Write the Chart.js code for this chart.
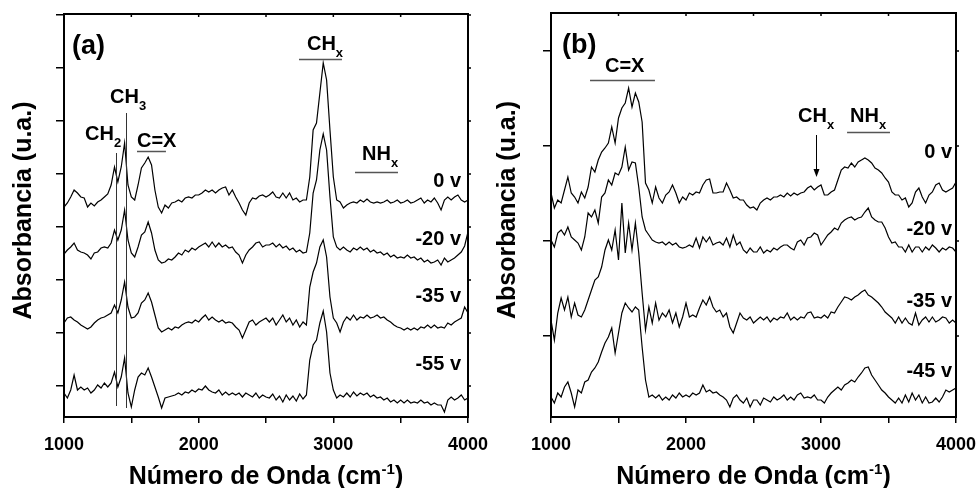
<!DOCTYPE html>
<html>
<head>
<meta charset="utf-8">
<title>Espectros FTIR</title>
<script src="https://cdn.jsdelivr.net/npm/chart.js@4/dist/chart.umd.min.js"></script>
<style>
  body { margin: 0; background: #fff; }
  .panel { position: absolute; top: 0; }
  #panelA { left: 0; }
  #panelB { left: 490px; }
</style>
</head>
<body>
<canvas id="panelA" class="panel" width="490" height="488"></canvas>
<canvas id="panelB" class="panel" width="487" height="488"></canvas>
<script>
/**
 * Espectros FTIR apilados, paneles (a) y (b).
 * Absorbancia en unidades arbitrarias, cada espectro desplazado verticalmente.
 */

var FAMILY = '"Liberation Sans", Arial, Helvetica, sans-serif';

// numero de onda (cm-1), paso de 25
var wavenumber = [
    1000, 1025, 1050, 1075, 1100, 1125, 1150, 1175, 1200, 1225,
    1250, 1275, 1300, 1325, 1350, 1375, 1400, 1425, 1450, 1475,
    1500, 1525, 1550, 1575, 1600, 1625, 1650, 1675, 1700, 1725,
    1750, 1775, 1800, 1825, 1850, 1875, 1900, 1925, 1950, 1975,
    2000, 2025, 2050, 2075, 2100, 2125, 2150, 2175, 2200, 2225,
    2250, 2275, 2300, 2325, 2350, 2375, 2400, 2425, 2450, 2475,
    2500, 2525, 2550, 2575, 2600, 2625, 2650, 2675, 2700, 2725,
    2750, 2775, 2800, 2825, 2850, 2875, 2900, 2925, 2950, 2975,
    3000, 3025, 3050, 3075, 3100, 3125, 3150, 3175, 3200, 3225,
    3250, 3275, 3300, 3325, 3350, 3375, 3400, 3425, 3450, 3475,
    3500, 3525, 3550, 3575, 3600, 3625, 3650, 3675, 3700, 3725,
    3750, 3775, 3800, 3825, 3850, 3875, 3900, 3925, 3950, 3975, 4000
];

var xTickLabels = [1000, 2000, 3000, 4000];

// panel (a)
var labelsA  = ['0 v', '-20 v', '-35 v', '-55 v'];
var offsetsA = [181, 128, 64, -11];

var a0v = [
    -2, 2, 8, 15, 12, 8, 7, -2, 2, -1,
    3, 5, 8, 11, 20, 38, 23, 38, 62, 20,
    8, 5, 20, 37, 42, 48, 40, 15, -2, -8,
    0, -3, 2, 3, 5, 3, 7, 8, 7, 10,
    10, 12, 15, 13, 15, 12, 15, 17, 18, 10,
    15, 8, 2, -5, -10, 2, 7, 6, 9, 10,
    8, 10, 13, 8, 7, 12, 7, 12, 5, 7,
    3, 5, 5, 28, 75, 82, 112, 142, 125, 75,
    28, 5, 3, -3, 0, 2, 3, 2, 5, 3,
    6, 3, 2, 3, 2, 3, 5, 2, 3, 5,
    2, 3, 5, 2, 3, 5, 7, 2, 5, 3,
    7, 2, -5, 5, 8, 5, 8, 10, 5, 3, 5
];

var a20v = [
    4, 8, 11, 15, 8, 6, 5, 3, -1, 5,
    6, 10, 11, 10, 15, 28, 18, 28, 48, 18,
    5, 1, 11, 23, 26, 36, 25, 8, -2, -5,
    -4, -1, -2, 1, 5, 3, 8, 6, 10, 8,
    11, 13, 15, 11, 16, 11, 15, 11, 13, 10,
    11, 6, 3, -5, 3, 8, 11, 15, 16, 11,
    13, 13, 15, 11, 14, 10, 12, 8, 10, 6,
    8, 5, 6, 25, 65, 78, 108, 124, 108, 61,
    21, 11, 8, 11, 8, 6, 10, 8, 11, 8,
    10, 6, 8, 5, 6, 3, 5, 1, 3, 0,
    1, 0, 3, 0, 1, -2, 0, -4, -2, -5,
    -4, -2, -7, 0, -4, -2, 0, 3, 6, 12, 26
];

var a35v = [
    -1, 4, 5, 2, 0, -3, -5, -7, -5, -1,
    2, 4, 5, 7, 9, 17, 9, 22, 40, 15,
    4, 5, 9, 19, 22, 29, 20, 7, -6, -10,
    -8, -6, -8, -5, -6, -3, -1, 0, -1, 2,
    0, 4, 7, 2, 5, 2, 0, 2, -1, 0,
    -1, -5, -8, -16, -8, 0, 2, -3, 0, 2,
    4, 0, 4, -3, 2, 7, 0, 4, -3, 2,
    -5, 0, -3, 35, 50, 59, 75, 82, 65, 25,
    4, -1, -10, 0, 5, 2, 7, 2, 5, 4,
    7, 4, 5, 7, 4, 5, 2, 0, -3, -5,
    -6, -8, -6, -8, -6, -8, -5, -6, -3, -6,
    -3, -6, -5, -6, -1, -3, 0, 2, 4, 15, 9
];

var a55v = [
    4, -1, 7, 22, 7, 10, 7, 9, 4, 7,
    12, 9, 14, 10, 14, 25, 10, 20, 39, 4,
    -10, 7, 20, 24, 22, 29, 20, 10, 0, -11,
    -1, 0, 1, 2, 4, 2, 5, 4, 7, 5,
    8, 7, 11, 7, 5, 4, 7, 2, 5, 2,
    4, 2, 4, 0, 4, 2, 0, 4, -1, 2,
    0, -1, 3, -3, 1, -5, 2, -3, 1, -4,
    3, -2, 2, 37, 52, 57, 74, 86, 65, 24,
    7, -1, 2, 0, 4, 0, 5, 1, 4, 2,
    4, 0, 2, -1, 0, -3, -1, -5, -3, -6,
    -3, -6, -3, -6, -5, -6, -3, -6, -5, -8,
    -6, -8, -8, -15, -3, 0, -3, -1, 2, -3, -1
];

// panel (b)
var labelsB  = ['0 v', '-20 v', '-35 v', '-45 v'];
var offsetsB = [136, 88, 18, -62];

var b0v = [
    7, -8, 0, -3, 10, 23, 7, 3, -3, 8,
    2, 13, 33, 28, 40, 48, 52, 57, 73, 57,
    82, 92, 97, 112, 93, 107, 98, 78, 17, 10,
    -3, 13, 2, -3, 5, 8, 15, 7, -3, 3,
    0, 7, 5, 8, 7, 15, 20, 21, 7, 7,
    8, 8, 17, 10, 2, 3, 0, 0, -5, -8,
    -7, -10, -3, 0, 2, 0, 3, 3, 5, 3,
    7, 4, 7, 5, 7, 8, 12, 14, 10, 13,
    15, 5, 5, 8, 10, 20, 30, 33, 32, 37,
    33, 38, 40, 42, 40, 37, 32, 30, 27, 22,
    18, 8, 5, 5, 0, 2, -7, -3, 8, 12,
    3, -3, 5, 8, 15, 17, 10, 8, 10, 12, 18
];

var b20v = [
    8, 1, 15, 18, 13, 21, 11, 8, 5, -2,
    11, 35, 31, 38, 25, 51, 55, 68, 63, 75,
    73, 81, 101, 78, 86, 85, 61, 31, 18, 13,
    8, 6, 5, 6, 3, 6, 3, 5, 1, 0,
    1, 3, 1, 10, 0, 11, 6, 11, 3, 5,
    6, 3, 10, 1, 13, 3, 6, -2, -5, 0,
    -4, -4, 1, -5, -2, -4, 0, -2, 1, 3,
    3, 0, -2, 6, 8, 3, 10, 11, 15, 13,
    3, 8, 13, 16, 20, 18, 25, 28, 30, 31,
    28, 30, 31, 36, 40, 31, 28, 26, 26, 20,
    11, 5, 6, 1, 1, -4, 3, -4, 1, 1,
    -4, 1, -2, 3, 0, -4, 0, -2, 1, 0, -4
];

var b35v = [
    -2, -22, 5, 20, 8, 21, 1, 15, 3, 1,
    8, 18, 28, 38, 41, 51, 68, 78, 68, 88,
    58, 115, 65, 95, 68, 95, 65, 25, -12, 11,
    -5, 15, -2, 5, 1, 8, -5, 5, -9, 1,
    15, 1, 3, 1, 10, 18, 13, 21, 11, 6,
    8, 1, 5, -9, -15, -5, 5, 0, -2, 1,
    -5, -2, 1, -2, 1, -4, 0, -2, 1, 0,
    5, -2, 1, -2, 1, 0, 5, 6, 0, 1,
    0, 3, 0, 6, 5, 11, 16, 21, 20, 18,
    21, 23, 26, 28, 23, 21, 18, 15, 11, 6,
    3, 0, -5, 1, -5, 0, -5, -7, 5, -7,
    -2, 1, -4, 1, -4, -2, 1, 0, -5, -2, -5
];

var b45v = [
    1, -5, 5, 1, 11, 16, 5, -9, 8, 5,
    16, 18, 26, 30, 36, 46, 55, 61, 70, 45,
    65, 85, 95, 90, 86, 91, 88, 51, 18, 1,
    3, 0, 3, -2, 1, -2, 3, 0, 5, 1,
    3, 1, 5, 3, 5, 13, 6, 8, 5, 6,
    3, 1, -2, -9, 0, 3, -2, -5, 0, -9,
    -2, -2, -7, 0, -2, -4, 1, -2, 0, 3,
    -2, 1, -2, 3, 5, 0, 1, 0, 3, -2,
    -2, -5, 1, 5, 8, 11, 8, 13, 15, 18,
    16, 21, 25, 30, 31, 23, 18, 13, 8, 5,
    1, -2, -5, 0, -5, 3, -4, 5, -2, 3,
    -5, 1, -5, -4, 0, -4, 1, 8, 6, 8, 10
];


function stack(series, offset) {
    return wavenumber.map((w, i) => ({ x: w, y: series[i] + offset }));
}

// text with sub/superscript pieces, left aligned at (x, y) baseline
function drawParts(ctx, x, y, parts, size, smallSize) {
    var cx = x;
    parts.forEach(function (p) {
        var kind = p[1];
        var small = kind === 'sub' || kind === 'sup';
        ctx.font = 'bold ' + (small ? smallSize : size) + 'px ' + FAMILY;
        var dy = kind === 'sub' ? Math.round(size * 0.35) : kind === 'sup' ? -Math.round(size * 0.38) : 0;
        ctx.fillText(p[0], cx, y + dy);
        cx += ctx.measureText(p[0]).width;
    });
    return cx - x;
}

function partsWidth(ctx, parts, size, smallSize) {
    var w = 0;
    parts.forEach(function (p) {
        var small = p[1] === 'sub' || p[1] === 'sup';
        ctx.font = 'bold ' + (small ? smallSize : size) + 'px ' + FAMILY;
        w += ctx.measureText(p[0]).width;
    });
    return w;
}

var decor = {
    id: 'decor',
    afterDraw: function (chart, args, opts) {
        var ctx = chart.ctx;
        var area = chart.chartArea;
        var xs = chart.scales.x;
        var ys = chart.scales.y;

        ctx.save();
        ctx.fillStyle = '#000';
        ctx.strokeStyle = '#000';
        ctx.textBaseline = 'alphabetic';

        // frame
        ctx.lineWidth = 2;
        ctx.strokeRect(area.left, area.top, area.right - area.left, area.bottom - area.top);

        // small ticks on top and right edges
        ctx.lineWidth = 1.5;
        ctx.beginPath();
        xs.ticks.forEach(function (t) {
            var px = xs.getPixelForValue(t.value);
            ctx.moveTo(px, area.top);
            ctx.lineTo(px, area.top + 3);
        });
        ys.ticks.forEach(function (t) {
            var py = ys.getPixelForValue(t.value);
            ctx.moveTo(area.right, py);
            ctx.lineTo(area.right + 3, py);
        });
        ctx.stroke();

        // peak markers
        ctx.strokeStyle = '#555';
        ctx.lineWidth = 1.5;
        (opts.bars || []).forEach(function (b) {
            var py = Math.round(ys.getPixelForValue(b.y)) + 0.5;
            ctx.beginPath();
            ctx.moveTo(xs.getPixelForValue(b.x1), py);
            ctx.lineTo(xs.getPixelForValue(b.x2), py);
            ctx.stroke();
        });
        ctx.strokeStyle = '#333';
        ctx.lineWidth = 1;
        (opts.drops || []).forEach(function (d) {
            var px = Math.round(xs.getPixelForValue(d.x)) + 0.5;
            ctx.beginPath();
            ctx.moveTo(px, ys.getPixelForValue(d.y1));
            ctx.lineTo(px, ys.getPixelForValue(d.y2));
            ctx.stroke();
        });
        ctx.strokeStyle = '#000';
        (opts.arrows || []).forEach(function (a) {
            var px = Math.round(xs.getPixelForValue(a.x)) + 0.5;
            var y1 = ys.getPixelForValue(a.y1);
            var y2 = ys.getPixelForValue(a.y2);
            ctx.beginPath();
            ctx.moveTo(px, y1);
            ctx.lineTo(px, y2 - 6);
            ctx.stroke();
            ctx.beginPath();
            ctx.moveTo(px - 3, y2 - 8);
            ctx.lineTo(px + 3, y2 - 8);
            ctx.lineTo(px, y2);
            ctx.closePath();
            ctx.fill();
        });

        // band labels
        ctx.textAlign = 'left';
        (opts.notes || []).forEach(function (n) {
            drawParts(ctx, xs.getPixelForValue(n.x), ys.getPixelForValue(n.y), n.parts, 20, 13);
        });

        // bias voltage of each spectrum
        ctx.textAlign = 'right';
        ctx.font = 'bold 20px ' + FAMILY;
        opts.series.forEach(function (s) {
            ctx.fillText(s.text, area.right - opts.seriesInset, ys.getPixelForValue(s.y));
        });

        // panel letter
        ctx.textAlign = 'left';
        ctx.font = 'bold 27px ' + FAMILY;
        ctx.fillText(opts.letter, area.left + opts.letterX, area.top + 40);

        // axis titles
        var xt = [['Número de Onda (cm'], ['-1', 'sup'], [')']];
        var w = partsWidth(ctx, xt, 25, 15);
        drawParts(ctx, (area.left + area.right) / 2 - w / 2, 484, xt, 25, 15);

        ctx.save();
        ctx.translate(area.left - opts.yTitleGap, (area.top + area.bottom) / 2 - 5);
        ctx.rotate(-Math.PI / 2);
        ctx.textAlign = 'center';
        ctx.font = 'bold 25px ' + FAMILY;
        ctx.fillText('Absorbancia (u.a.)', 0, 0);
        ctx.restore();

        ctx.restore();
    }
};

function spectraChart(canvasId, seriesList, offsets, yAxis, frame, decorOpts) {
    var datasets = seriesList.map(function (s, i) {
        return {
            data: stack(s, offsets[i]),
            borderColor: '#000',
            borderWidth: 1.2,
            pointRadius: 0,
            tension: 0,
            fill: false
        };
    });

    return new Chart(document.getElementById(canvasId), {
        type: 'line',
        data: { datasets: datasets },
        options: {
            responsive: false,
            animation: false,
            devicePixelRatio: 1,
            layout: { padding: { top: frame.top, right: frame.right, left: 0, bottom: 0 } },
            plugins: {
                legend: { display: false },
                tooltip: { enabled: false },
                decor: decorOpts
            },
            scales: {
                x: {
                    type: 'linear',
                    min: 1000,
                    max: 4000,
                    afterFit: function (scale) {
                        scale.height = 71;
                        scale.paddingLeft = 0;
                        scale.paddingRight = 0;
                    },
                    border: { display: false },
                    grid: { drawOnChartArea: false, tickLength: 6, lineWidth: 1.5, color: '#000' },
                    ticks: {
                        stepSize: 500,
                        autoSkip: false,
                        maxRotation: 0,
                        padding: 11,
                        color: '#000',
                        font: { family: FAMILY, size: 18, weight: 'bold' },
                        callback: function (v) { return xTickLabels.indexOf(v) >= 0 ? String(v) : ''; }
                    }
                },
                y: {
                    min: yAxis.min,
                    max: yAxis.max,
                    afterFit: function (scale) {
                        scale.width = frame.left;
                        scale.paddingTop = 0;
                        scale.paddingBottom = 0;
                    },
                    border: { display: false },
                    grid: { drawOnChartArea: false, tickLength: 8, lineWidth: 1.5, color: '#000' },
                    ticks: { display: false, stepSize: yAxis.step, includeBounds: false }
                }
            }
        },
        plugins: [decor]
    });
}

var chartA = spectraChart('panelA', [a0v, a20v, a35v, a55v], offsetsA,
    { min: -31, max: 372, step: 53 },
    { top: 14, right: 22, left: 64 },
    {
        letter: '(a)',
        letterX: 8,
        yTitleGap: 33,
        seriesInset: 7,
        series: [
            { text: labelsA[0], y: 199 },
            { text: labelsA[1], y: 141 },
            { text: labelsA[2], y: 84 },
            { text: labelsA[3], y: 16 }
        ],
        notes: [
            { x: 2804, y: 336, parts: [['CH'], ['x', 'sub']] },
            { x: 1342, y: 283, parts: [['CH'], ['3', 'sub']] },
            { x: 1156, y: 246, parts: [['CH'], ['2', 'sub']] },
            { x: 1542, y: 239, parts: [['C=X']] },
            { x: 3213, y: 226, parts: [['NH'], ['x', 'sub']] }
        ],
        bars: [
            { x1: 2745, x2: 3064, y: 327 },
            { x1: 1542, x2: 1757, y: 235 },
            { x1: 3161, x2: 3480, y: 214 }
        ],
        drops: [
            { x: 1386, y1: 233, y2: -20 },
            { x: 1460, y1: 273, y2: -22 }
        ]
    });

var chartB = spectraChart('panelB', [b0v, b20v, b35v, b45v], offsetsB,
    { min: -81, max: 323, step: 95 },
    { top: 13, right: 21, left: 61 },
    {
        letter: '(b)',
        letterX: 11,
        yTitleGap: 36,
        seriesInset: 4,
        series: [
            { text: labelsB[0], y: 178 },
            { text: labelsB[1], y: 101 },
            { text: labelsB[2], y: 29 },
            { text: labelsB[3], y: -41 }
        ],
        notes: [
            { x: 1400, y: 264, parts: [['C=X']] },
            { x: 2830, y: 214, parts: [['CH'], ['x', 'sub']] },
            { x: 3215, y: 214, parts: [['NH'], ['x', 'sub']] }
        ],
        bars: [
            { x1: 1289, x2: 1770, y: 256 },
            { x1: 3193, x2: 3511, y: 204 }
        ],
        arrows: [
            { x: 2963, y1: 201, y2: 159 }
        ]
    });
</script>
</body>
</html>
